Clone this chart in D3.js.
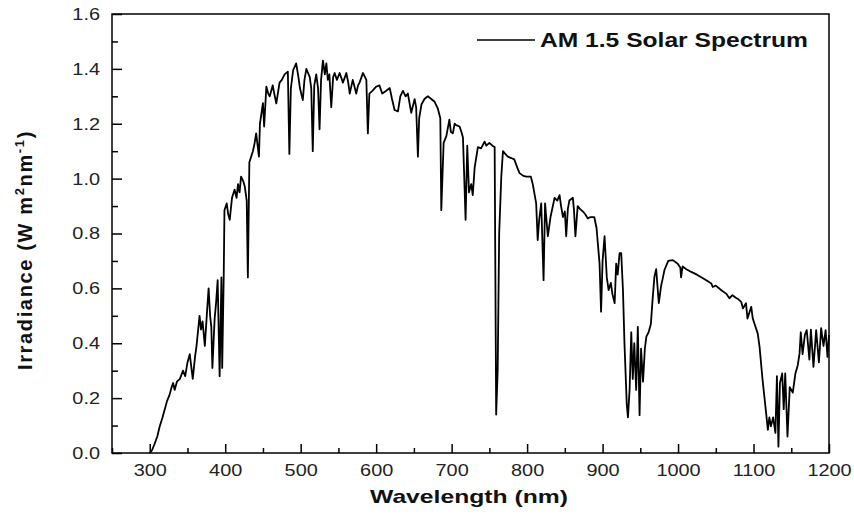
<!DOCTYPE html>
<html>
<head>
<meta charset="utf-8">
<script src="https://cdn.jsdelivr.net/npm/d3@7"></script>
<style>
  body { margin: 0; background: #fff; }
  svg { font-family: "Liberation Sans", Arial, sans-serif; }
</style>
</head>
<body>
<div id="chart"></div>
<script>
// wavelength (nm)
var wavelengths = [
  300,303,306,310,313,317,320,323,326,329,331,333,336,340,344,347,350,353,357,360,
  362,366,368,370,373,376,378,380,381.6,383,386,388,390,392.6,395,396,398,399,402,404,
  406,409,412.5,415,417,419,421,424,426,428.5,430,432,436.7,439,441,444.7,446,450,451.6,454.5,
  457,459,463,465,467.7,472,475,478.7,483,485,487,490,494,497,499,502.8,505,507.5,512,514,
  516,518,520.6,523,525,527,529.5,532,534,536,538,540.5,543,545,548,551.6,556,560.5,563,565,
  569,573.6,576,578,582.5,587,589,591,595,600,604.3,608,613.4,618,621,624.4,628.9,632,635.5,639,
  642,646.5,651,653,655.3,657,660,664,668.5,673,677.5,681.8,685,686.3,689.4,693,697,699,701.6,704,
  706,710.5,713,715,717,718.5,720.7,723,726,728,730.5,734.8,739,743.6,746,750,754,757,759,761,
  763,765.8,768,771,774.5,779,783,787,790,795,799,805,807.5,812,814,816,818.7,821.8,823.8,827.5,
  831,836.4,840,843,845,847.5,850,851.8,854,856,860.6,862,864,867,870,874,877,880.5,884,889,
  892,896,898,900,902.6,905.6,908,911,913,916,918,920,922.5,924.7,927,929,932,933.6,935.8,938,
  940,942,944.5,946.7,949,951,953.6,956,958,961,964,966,968.7,971,974.5,977.6,980,982,987,993,
  999.6,1003,1004,1006,1011,1017.5,1025,1033,1040,1044,1046,1050,1057,1064,1068,1072,1077,1080,1083.6,1086,
  1090,1092,1097,1099,1102.6,1105.6,1108,1112,1116.7,1119,1121,1123,1126,1129,1131,1133,1135,1138,1140,1142,
  1145,1148,1152,1155.5,1158.6,1161,1162.6,1165,1168,1170.5,1174,1176,1179.4,1183,1186.6,1189.6,1192.7,1195.5,1198,1200
];
// irradiance (W m^-2 nm^-1)
var irradiance = [
  0,0.01,0.03,0.06,0.095,0.13,0.16,0.19,0.21,0.24,0.255,0.23,0.26,0.27,0.30,0.28,0.33,0.36,0.27,0.35,
  0.39,0.50,0.45,0.48,0.39,0.52,0.60,0.50,0.46,0.31,0.49,0.55,0.63,0.28,0.64,0.31,0.64,0.885,0.91,0.87,
  0.85,0.93,0.96,0.93,0.98,0.95,1.007,0.99,0.97,0.92,0.64,1.06,1.10,1.13,1.165,1.08,1.20,1.275,1.19,1.335,
  1.31,1.30,1.34,1.31,1.274,1.35,1.36,1.38,1.39,1.09,1.33,1.395,1.42,1.37,1.33,1.286,1.36,1.40,1.37,1.33,
  1.10,1.34,1.38,1.33,1.18,1.36,1.43,1.38,1.42,1.36,1.38,1.26,1.37,1.385,1.36,1.385,1.35,1.385,1.35,1.31,
  1.36,1.31,1.34,1.35,1.385,1.36,1.165,1.31,1.32,1.335,1.34,1.31,1.32,1.33,1.29,1.25,1.245,1.30,1.32,1.30,
  1.31,1.24,1.29,1.26,1.08,1.22,1.27,1.29,1.30,1.29,1.28,1.255,1.22,0.885,1.13,1.155,1.215,1.17,1.165,1.20,
  1.195,1.19,1.17,1.15,0.98,0.85,1.12,0.95,0.98,0.94,1.04,1.115,1.11,1.135,1.12,1.13,1.12,1.115,0.14,0.30,
  0.80,1.007,1.10,1.09,1.08,1.075,1.07,1.04,1.02,1.01,1.007,1.007,0.98,0.91,0.776,0.85,0.91,0.63,0.91,0.79,
  0.86,0.93,0.92,0.94,0.90,0.86,0.88,0.79,0.89,0.92,0.93,0.89,0.79,0.90,0.89,0.88,0.87,0.855,0.86,0.86,
  0.82,0.69,0.515,0.70,0.79,0.64,0.594,0.62,0.58,0.546,0.69,0.65,0.728,0.728,0.594,0.40,0.18,0.13,0.23,0.44,
  0.27,0.40,0.23,0.46,0.138,0.38,0.26,0.38,0.424,0.44,0.47,0.55,0.643,0.67,0.546,0.61,0.64,0.667,0.70,0.703,
  0.69,0.675,0.64,0.68,0.67,0.66,0.65,0.637,0.625,0.618,0.605,0.61,0.594,0.58,0.564,0.575,0.565,0.56,0.551,0.527,
  0.546,0.49,0.533,0.49,0.46,0.435,0.387,0.266,0.145,0.084,0.13,0.097,0.13,0.073,0.28,0.023,0.255,0.29,0.16,0.29,
  0.06,0.24,0.22,0.29,0.32,0.363,0.44,0.36,0.43,0.448,0.34,0.45,0.314,0.448,0.33,0.455,0.39,0.448,0.35,0.43
];
var xTicks = [300,400,500,600,700,800,900,1000,1100,1200];
var xMinor = [250,350,450,550,650,750,850,950,1050,1150];
var yTicks = [0.0,0.2,0.4,0.6,0.8,1.0,1.2,1.4,1.6];
var yMinor = [0.1,0.3,0.5,0.7,0.9,1.1,1.3,1.5];
var seriesName = "AM 1.5 Solar Spectrum";

var W = 854, H = 517;
var margin = {top: 14, right: 25, bottom: 64, left: 112};
var width = W - margin.left - margin.right;
var height = H - margin.top - margin.bottom;

var svg = d3.select("#chart").append("svg")
    .attr("width", W)
    .attr("height", H)
  .append("g")
    .attr("transform", "translate(" + margin.left + "," + margin.top + ")");

var x = d3.scaleLinear().domain([250, 1200]).range([0, width]);
var y = d3.scaleLinear().domain([0, 1.6]).range([height, 0]);

// 축 - 눈금은 안쪽으로
var xAxis = svg.append("g")
    .attr("transform", "translate(0," + height + ")")
    .call(d3.axisBottom(x).tickValues(xTicks).tickSize(-9).tickPadding(11).tickFormat(d3.format("d")));
var xAxisMinor = svg.append("g")
    .attr("transform", "translate(0," + height + ")")
    .call(d3.axisBottom(x).tickValues(xMinor).tickSize(-5).tickFormat(""));
var yAxis = svg.append("g")
    .call(d3.axisLeft(y).tickValues(yTicks).tickSize(-10).tickPadding(12).tickFormat(d3.format(".1f")));
var yAxisMinor = svg.append("g")
    .call(d3.axisLeft(y).tickValues(yMinor).tickSize(-6).tickFormat(""));

[xAxis, xAxisMinor, yAxis, yAxisMinor].forEach(function(a) {
  a.select(".domain").remove();
  a.selectAll("line").attr("stroke", "#000").attr("stroke-width", 1.5);
  a.selectAll("text")
    .attr("fill", "#222")
    .attr("font-size", 17)
    .attr("font-family", "Liberation Sans, Arial, sans-serif")
    .each(function() {
      // 원본 그림은 가로로 조금 늘어나 있음
      var len = this.getComputedTextLength();
      d3.select(this).attr("textLength", len * 1.17).attr("lengthAdjust", "spacingAndGlyphs");
    });
});

// 스펙트럼 라인
var data = wavelengths.map(function(w, i) { return {w: w, v: irradiance[i]}; });
var line = d3.line()
    .x(function(d) { return x(d.w); })
    .y(function(d) { return y(d.v); });

svg.append("path")
    .datum(data)
    .attr("d", line)
    .attr("fill", "none")
    .attr("stroke", "#000")
    .attr("stroke-width", 1.8)
    .attr("stroke-linejoin", "round");

// 테두리
svg.append("rect")
    .attr("width", width)
    .attr("height", height)
    .attr("fill", "none")
    .attr("stroke", "#000")
    .attr("stroke-width", 1.5);

// 범례
var legend = svg.append("g")
    .attr("transform", "translate(" + (477 - margin.left) + "," + (40 - margin.top) + ")");
legend.append("line")
    .attr("x1", 0).attr("x2", 58)
    .attr("y1", 0).attr("y2", 0)
    .attr("stroke", "#000").attr("stroke-width", 1.5);
legend.append("text")
    .attr("x", 63).attr("y", 7)
    .attr("font-size", 20).attr("font-weight", "bold")
    .attr("textLength", 268).attr("lengthAdjust", "spacingAndGlyphs")
    .attr("fill", "#111")
    .text(seriesName);

// 축 제목
svg.append("text")
    .attr("x", 469 - margin.left).attr("y", 503 - margin.top)
    .attr("text-anchor", "middle")
    .attr("font-size", 19).attr("font-weight", "bold")
    .attr("textLength", 198).attr("lengthAdjust", "spacingAndGlyphs")
    .attr("fill", "#111")
    .text("Wavelength (nm)");

var yTitle = svg.append("text")
    .attr("transform", "translate(" + (32 - margin.left) + "," + (250 - margin.top) + ") rotate(-90)")
    .attr("text-anchor", "middle")
    .attr("font-size", 20).attr("font-weight", "bold")
    .attr("fill", "#111");
yTitle.append("tspan").text("Irradiance (W m");
yTitle.append("tspan").attr("dy", -8).attr("font-size", 13).text("2");
yTitle.append("tspan").attr("dy", 8).text("nm");
yTitle.append("tspan").attr("dy", -8).attr("font-size", 13).text("-1");
yTitle.append("tspan").attr("dy", 8).text(")");
// 전체 길이를 원본(약 240px)에 맞춤
var natural = yTitle.node().getComputedTextLength();
var nChars = "Irradiance (W m2nm-1)".length;
yTitle.attr("letter-spacing", ((240 - natural) / nChars) + "px");
</script>
</body>
</html>
